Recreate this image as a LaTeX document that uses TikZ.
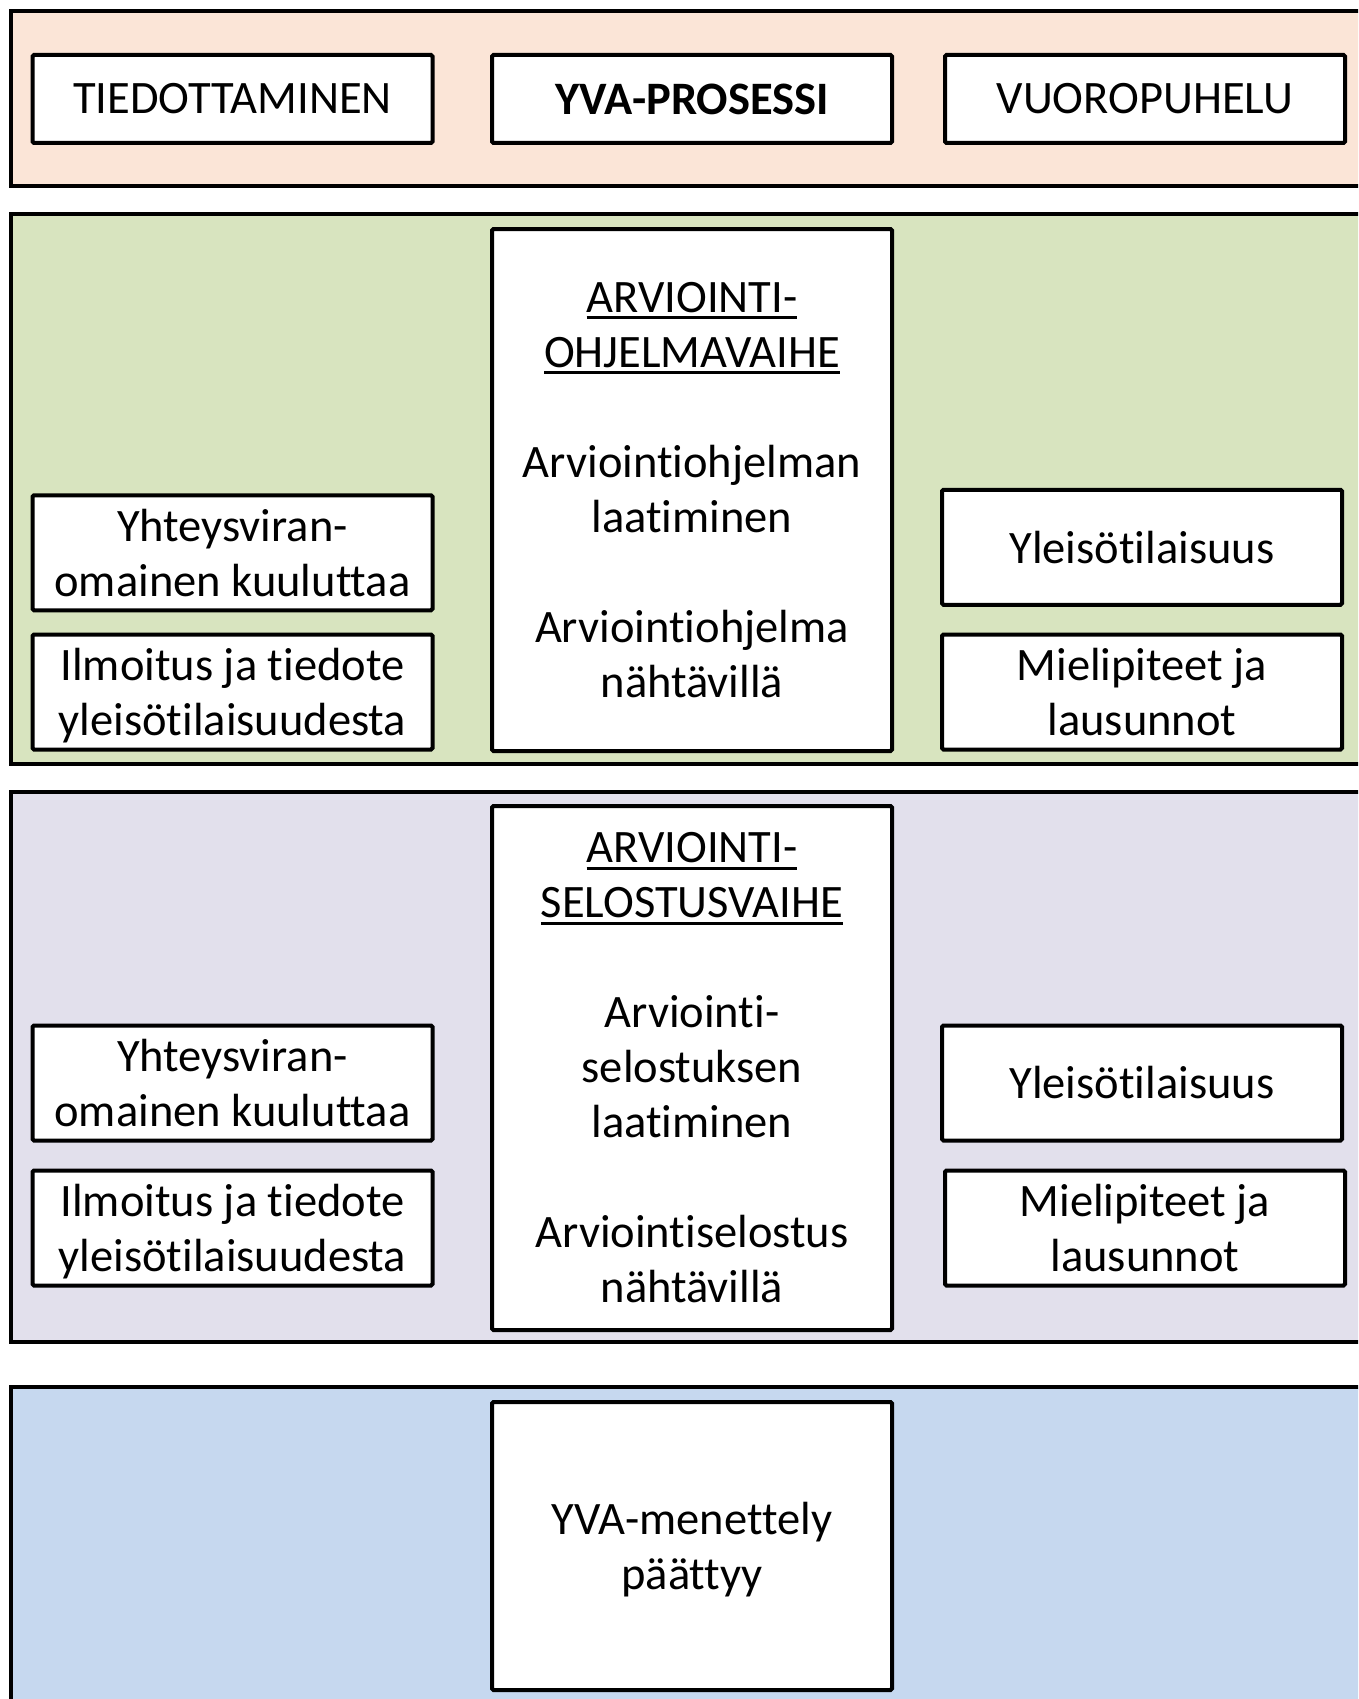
\documentclass[tikz,border=0pt]{standalone}
\usepackage{fontspec}
\setmainfont{Carlito}[Ligatures={NoCommon,NoRare,NoContextual}]
\usepackage{xcolor}
\usepackage{tikz}
\usetikzlibrary{positioning}
\definecolor{peach}{HTML}{FBE5D7}
\definecolor{sage}{HTML}{D8E4BF}
\definecolor{lilac}{HTML}{E2E0EC}
\definecolor{sky}{HTML}{C6D8EF}
\tikzset{
  band/.style={draw=black, line width=4pt},
  box/.style={rectangle, rounded corners=1.5pt, draw=black, fill=white, line width=4pt,
              align=center, inner sep=0pt, font=\fontsize{46.5}{55}\selectfont},
  head/.style={box, minimum width=400pt, minimum height=88pt},
  side/.style={box, minimum width=400pt, minimum height=115pt},
  phase/.style={box, minimum width=400pt}
}
\newcommand{\ulword}[1]{\setbox0=\hbox{#1}\rlap{\rule[-7pt]{\wd0}{3pt}}\box0}
\newcommand{\lastline}[1]{\raisebox{0pt}[\height][0pt]{#1}}

\begin{document}
\begin{tikzpicture}[x=1pt, y=-1pt]
  \useasboundingbox (0,0) rectangle (1358,1699);
  \clip (0,0) rectangle (1358,1699);

  \draw[band, fill=peach] (11,11) rectangle (1400,186);
  \draw[band, fill=sage]  (11,214) rectangle (1400,764);
  \draw[band, fill=lilac] (11,792) rectangle (1400,1342);
  \draw[band, fill=sky]   (11,1387) rectangle (1400,1760);

  \node[head] (info) at (232.5,99) {TIEDOTTAMINEN};
  \node[head] (yva)  at (692,99) {\textbf{YVA-PROSESSI}};
  \node[head] (dial) at (1145,99) {VUOROPUHELU};

  \node[phase, minimum height=522pt] (ohj) at (692,490)
    {\ulword{ARVIOINTI-}\\\ulword{OHJELMAVAIHE}\\[55pt]Arviointiohjelman\\laatiminen\\[55pt]Arviointiohjelma\\nähtävillä};
  \node[side] (kuul1) at (232.5,552.75) {Yhteysviran-\\omainen kuuluttaa};
  \node[side] (ilm1)  at (232.5,692) {Ilmoitus ja tiedote\\\lastline{yleisötilaisuudesta}};
  \node[side] (tila1) at (1142,547.25) {Yleisötilaisuus};
  \node[side] (miel1) at (1142,692) {Mielipiteet ja\\lausunnot};

  \node[phase, minimum height=524pt] (sel) at (692,1068)
    {\ulword{ARVIOINTI-}\\\ulword{SELOSTUSVAIHE}\\[55pt]Arviointi-\\selostuksen\\laatiminen\\[55pt]Arviointiselostus\\nähtävillä};
  \node[side] (kuul2) at (232.5,1083) {Yhteysviran-\\omainen kuuluttaa};
  \node[side] (ilm2)  at (232.5,1228) {Ilmoitus ja tiedote\\\lastline{yleisötilaisuudesta}};
  \node[side] (tila2) at (1142,1083) {Yleisötilaisuus};
  \node[side] (miel2) at (1145,1228) {Mielipiteet ja\\lausunnot};

  \node[phase, minimum height=288pt] (loppu) at (692,1546) {YVA-menettely\\\lastline{päättyy}};
\end{tikzpicture}
\end{document}
